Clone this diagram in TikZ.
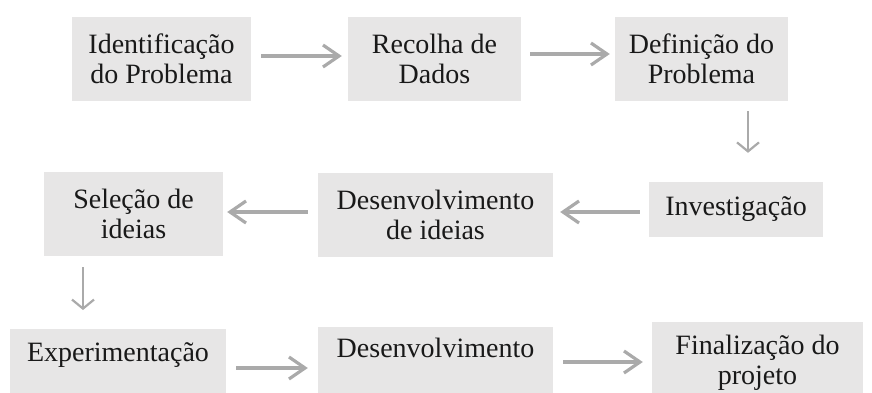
\documentclass[tikz,border=0pt]{standalone}
\usepackage{fontspec}
\setmainfont{Liberation Serif}
\usepackage{tikz}
\usetikzlibrary{arrows.meta}

\definecolor{boxgray}{RGB}{231,230,230}
\definecolor{arrowgray}{RGB}{170,170,170}
\definecolor{textblack}{RGB}{25,25,25}

\begin{document}
\begin{tikzpicture}[x=1pt,y=-1pt,
    stage/.style={fill=boxgray, text=textblack, inner sep=0pt, align=center, font=\fontsize{28}{30}\selectfont},
    lowstage/.style={stage, anchor=north, text height=32pt, text depth=45pt},
    flow/.style={arrowgray, line width=3.2pt, -{Straight Barb[length=16pt,width=22pt]}},
    drop/.style={arrowgray, line width=2.2pt, -{Straight Barb[length=9pt,width=22pt]}}]
  \useasboundingbox (0,0) rectangle (872,392);
  \clip (0,0) rectangle (872,392);
  % first row
  \node[stage, minimum width=179pt, minimum height=84pt] (ident) at (161.5,59) {Identificação\\do Problema};
  \node[stage, minimum width=173pt, minimum height=84pt] (recolha) at (434.5,59) {Recolha de\\Dados};
  \node[stage, minimum width=173pt, minimum height=84pt] (defin) at (701.5,59) {Definição do\\Problema};
  % second row
  \node[stage, minimum width=174pt, minimum height=55pt] (invest) at (736,209.5) {Investigação};
  \node[stage, minimum width=235pt, minimum height=84pt] (desid) at (435.5,215) {Desenvolvimento\\de ideias};
  \node[stage, minimum width=179pt, minimum height=84pt] (selec) at (133.5,214) {Seleção de\\ideias};
  % third row (cut off at the bottom)
  \node[lowstage, minimum width=216pt] (exper) at (118,329) {Experimentação};
  \node[lowstage, minimum width=235pt, text height=30pt] (desenv) at (435.5,327) {Desenvolvimento};
  \node[stage, anchor=north, minimum width=211pt, minimum height=82pt] (final) at (757.5,322) {Finalização do\\projeto};
  % arrows
  \draw[flow, shorten <=10pt, shorten >=6pt] ([yshift=3pt]ident.east) -- ([yshift=3pt]recolha.west);
  \draw[flow, shorten <=9pt, shorten >=5pt] ([yshift=5pt]recolha.east) -- ([yshift=5pt]defin.west);
  \draw[drop, shorten <=10pt, shorten >=29pt] ([xshift=46.5pt]defin.south) -- ([xshift=12pt]invest.north);
  \draw[flow, shorten <=9pt, shorten >=7pt] ([yshift=-2.5pt]invest.west) -- ([yshift=3pt]desid.east);
  \draw[flow, shorten <=10pt, shorten >=4pt] ([yshift=3pt]desid.west) -- ([yshift=2pt]selec.east);
  \draw[drop, shorten <=11pt, shorten >=19pt] ([xshift=-50.5pt]selec.south) -- ([xshift=-35pt]exper.north);
  \draw[flow, shorten <=10pt, shorten >=10pt] ([yshift=-39pt]exper.north east) -- ([yshift=-41pt]desenv.north west);
  \draw[flow, shorten <=10pt, shorten >=9pt] ([yshift=-35pt]desenv.north east) -- ([yshift=-40pt]final.north west);
\end{tikzpicture}
\end{document}
